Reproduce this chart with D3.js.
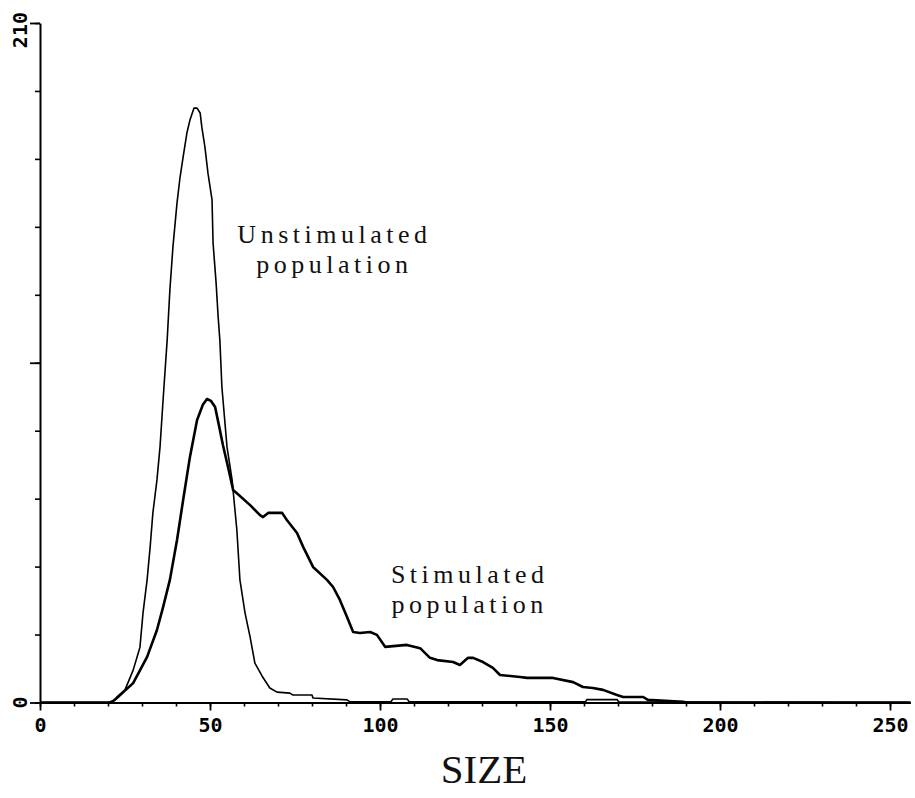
<!DOCTYPE html>
<html>
<head>
<meta charset="utf-8">
<script src="https://cdn.jsdelivr.net/npm/d3@7"></script>
<style>
  body { margin: 0; background: #fff; }
  svg { display: block; }
  .tick-label { font-family: "DejaVu Sans Mono", monospace; font-weight: bold; font-size: 20px; fill: #000; }
  .note { font-family: "Liberation Serif", "Times New Roman", serif; font-size: 26px; letter-spacing: 4.5px; fill: #111; }
  .axis-title { font-family: "Liberation Serif", "Times New Roman", serif; font-size: 41px; fill: #111; }
</style>
</head>
<body>
<div id="chart"></div>
<script>
let WIDTH = 915;
let HEIGHT = 798;

// histogram values: [size channel, count]
let unstimulated = [
    [0, 0], [20, 0], [22.1, 0.8], [22.6, 1.7], [25.0, 3.9], [27.4, 10.0], [29.4, 17.1],
    [30.3, 27.7], [31.5, 37.9], [32.4, 48.1], [33.2, 58.6], [34.4, 68.8], [35.3, 79.0],
    [36.2, 93.5], [37.4, 112], [38.2, 127.5], [39.1, 140.8], [40.3, 154.4], [41.2, 162.4],
    [42.1, 168.6], [43.2, 176], [44.1, 180], [45.3, 183.7], [46.2, 183.7], [47.1, 182.2],
    [47.6, 177.8], [48.5, 171.7], [49.4, 163.6], [50.6, 155.3], [50.9, 142], [51.8, 129.6],
    [52.4, 119.1], [52.9, 112], [53.5, 97.5], [55.0, 79], [56.5, 68.8], [57.9, 53.3],
    [58.8, 37.9], [60.3, 27.7], [61.8, 20.2], [63.2, 12.2], [65.3, 8.2], [67.6, 4.5],
    [69.7, 3.2], [73.5, 2.9], [74.4, 2.3], [80.0, 2.3], [80.3, 1.4], [90.3, 0.8],
    [91.2, 0.2], [103.2, 0.2], [103.8, 1.1], [108.0, 1.1], [108.6, 0.2], [160.4, 0.2],
    [160.9, 0.9], [169.7, 0.9], [170.2, 0.2], [256, 0]
];

let stimulated = [
    [0, 0], [21, 0], [22.6, 1.4], [27.4, 6.0], [31.5, 14.1], [34.4, 22.4], [36.2, 29.5],
    [38.2, 37.9], [40.3, 50.2], [42.1, 62.6], [44.1, 75.9], [46.2, 87.3], [47.9, 92],
    [49.1, 93.8], [50.3, 93.2], [51.5, 91.3], [52.6, 85.8], [53.8, 79.6], [55.3, 72.8],
    [56.8, 65.7], [57.9, 64.7], [61.8, 61.0], [64.7, 57.9], [65.6, 57.3], [67.1, 58.6],
    [71.2, 58.6], [72.6, 56.4], [75.6, 52.4], [77.4, 48.1], [80.3, 41.9], [84.4, 37.9],
    [86.2, 35.7], [88.2, 31.7], [90.3, 26.4], [92.1, 21.8], [94.1, 21.5], [97.1, 21.8],
    [99.1, 20.9], [101.5, 17.2], [107.9, 17.8], [111.8, 16.8], [114.7, 13.8], [116.8, 13.1],
    [121.5, 12.5], [123.5, 11.6], [125.9, 13.8], [127.4, 13.8], [130.3, 12.5], [133.2, 10.7],
    [135.3, 8.5], [141.2, 7.9], [143.2, 7.6], [150.9, 7.6], [156.8, 6.3], [159.7, 4.8],
    [162.6, 4.5], [165.6, 3.9], [169.7, 2.3], [171.5, 1.7], [177.4, 1.7], [178.8, 0.8],
    [189.1, 0.2], [190.3, 0], [256, 0]
];

let xMajorTicks = [0, 50, 100, 150, 200, 250];
let xMinorTicks = d3.range(0, 251, 10);
let yMinorTicks = d3.range(0, 211, 21);
let yMajorTicks = [0, 105, 210];
let yTickLabels = [0, 210];

let labels = [
    { lines: ["Unstimulated", "population"], size: 86, count: 142 },
    { lines: ["Stimulated", "population"], size: 125.8, count: 37 }
];

let svg = d3.select("#chart").append("svg")
    .attr("width", WIDTH)
    .attr("height", HEIGHT);

let x = d3.scaleLinear().domain([0, 256]).range([40, 910.4]);
let y = d3.scaleLinear().domain([0, 210]).range([702.5, 23]);

// x axis: minor ticks, then major ticks with labels
svg.append("g")
    .attr("transform", `translate(0, ${y(0)})`)
    .call(d3.axisBottom(x).tickValues(xMinorTicks).tickSize(4).tickSizeOuter(0).tickFormat(""))
    .call(g => g.select(".domain").attr("stroke-width", 2))
    .call(g => g.selectAll(".tick line").attr("stroke-width", 1.6));

svg.append("g")
    .attr("transform", `translate(0, ${y(0)})`)
    .call(d3.axisBottom(x).tickValues(xMajorTicks).tickSize(8).tickSizeOuter(0).tickPadding(7))
    .call(g => g.select(".domain").remove())
    .call(g => g.selectAll(".tick line").attr("stroke-width", 1.8))
    .call(g => g.selectAll(".tick text").attr("class", "tick-label").attr("font-size", null).attr("font-family", null));

// y axis
svg.append("g")
    .attr("transform", `translate(${x(0)}, 0)`)
    .call(d3.axisLeft(y).tickValues(yMinorTicks).tickSize(5).tickSizeOuter(0).tickFormat(""))
    .call(g => g.select(".domain").attr("stroke-width", 2))
    .call(g => g.selectAll(".tick line").attr("stroke-width", 1.6));

svg.append("g")
    .attr("transform", `translate(${x(0)}, 0)`)
    .call(d3.axisLeft(y).tickValues(yMajorTicks).tickSize(10).tickSizeOuter(0).tickFormat(""))
    .call(g => g.select(".domain").remove())
    .call(g => g.selectAll(".tick line").attr("stroke-width", 1.8));

svg.selectAll("text.y-label")
    .data(yTickLabels)
    .enter().append("text")
    .attr("class", "tick-label")
    .attr("text-anchor", d => d === 0 ? "middle" : "end")
    .attr("transform", d => `translate(27, ${d === 0 ? y(d) : y(d) - 11}) rotate(-90)`)
    .text(d => d);

// curves
let line = d3.line()
    .x(d => x(d[0]))
    .y(d => y(d[1]));

svg.append("path")
    .datum(unstimulated)
    .attr("fill", "none")
    .attr("stroke", "#000")
    .attr("stroke-width", 1.6)
    .attr("stroke-linejoin", "round")
    .attr("d", line);

svg.append("path")
    .datum(stimulated)
    .attr("fill", "none")
    .attr("stroke", "#000")
    .attr("stroke-width", 2.6)
    .attr("stroke-linejoin", "round")
    .attr("d", line);

// annotations
labels.forEach(lab => {
    let t = svg.append("text")
        .attr("class", "note")
        .attr("text-anchor", "middle")
        .attr("transform", `translate(${x(lab.size) + 2}, ${y(lab.count)})`);
    lab.lines.forEach((s, i) => {
        t.append("tspan").attr("x", 0).attr("y", i * 30).text(s);
    });
});

svg.append("text")
    .attr("class", "axis-title")
    .attr("text-anchor", "middle")
    .attr("x", 484)
    .attr("y", 783)
    .text("SIZE");
</script>
</body>
</html>
